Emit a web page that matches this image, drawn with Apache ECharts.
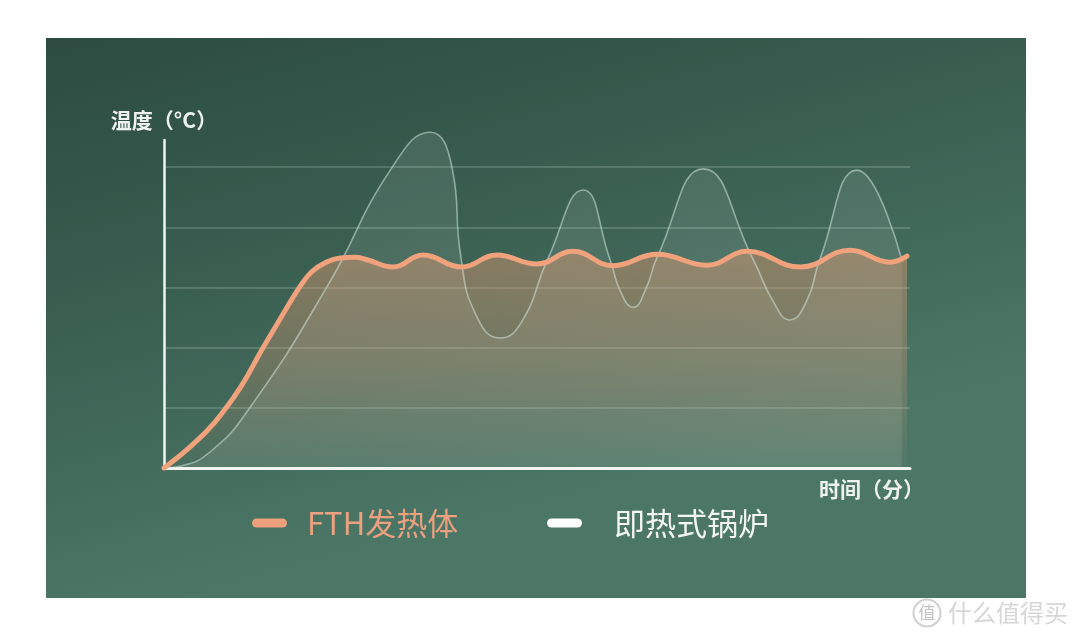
<!DOCTYPE html>
<html>
<head>
<meta charset="utf-8">
<script src="https://cdn.jsdelivr.net/npm/echarts@6/dist/echarts.min.js"></script>
<style>
html,body{margin:0;padding:0;background:#ffffff;}
#chart{width:1080px;height:636px;}
</style>
</head>
<body>
<div id="chart"></div>
<script>
// ---- data ----
const seriesNames = ['FTH发热体', '即热式锅炉'];
const axisNames = ['温度（°C）', '时间（分）'];
const fthX = [0, 3.5, 6.8, 10.2, 13.1, 16.2, 18.2, 19.8, 21.6, 23.6, 25.6, 27.2, 30.7, 34.7, 39.9, 44.6, 50.0, 54.8, 60.2, 66.1, 72.8, 78.2, 85.3, 92.0, 97.3, 99.6];
const fthY = [0, 0.35, 0.76, 1.33, 1.96, 2.61, 3.01, 3.26, 3.41, 3.49, 3.5, 3.46, 3.34, 3.54, 3.34, 3.54, 3.39, 3.60, 3.36, 3.55, 3.37, 3.60, 3.34, 3.62, 3.42, 3.52];
const boilerX = [0, 2.1, 6.2, 11.5, 21.8, 30.6, 35.7, 38.6, 39.8, 41.8, 45.0, 47.9, 51.5, 56.2, 59.8, 61.2, 62.9, 64.6, 66.1, 72.3, 79.0, 81.6, 83.9, 86.2, 87.9, 92.9, 98.9];
const boilerY = [0, 0.03, 0.27, 1.0, 3.0, 5.0, 5.58, 5.0, 3.5, 2.55, 2.16, 2.42, 3.49, 4.62, 3.46, 2.93, 2.67, 2.98, 3.50, 4.97, 3.46, 2.78, 2.46, 2.79, 3.46, 4.95, 3.46];
const watermarkText = '什么值得买';
const watermarkIcon = '值';

const fthData = fthX.map((x, i) => [x, fthY[i]]);
const boilerData = boilerX.map((x, i) => [x, boilerY[i]]);

const chart = echarts.init(document.getElementById('chart'), null, {renderer: 'canvas'});
const pill = 'path://M4.5,0 L30.5,0 A4.5,4.5 0 0 1 30.5,9 L4.5,9 A4.5,4.5 0 0 1 4.5,0 Z';

const option = {
  backgroundColor: '#ffffff',
  animation: false,
  graphic: [
    {
      type: 'rect', z: -10, silent: true,
      shape: {x: 46, y: 38, width: 980, height: 560},
      style: {
        fill: new echarts.graphic.LinearGradient(0, 0, 0.15, 1, [
          {offset: 0, color: '#2d4b41'},
          {offset: 0.5, color: '#3a6052'},
          {offset: 1, color: '#4c7767'}
        ])
      }
    },
    {
      type: 'circle', z: 10, silent: true,
      shape: {cx: 927, cy: 613, r: 13.5},
      style: {fill: '#ffffff', stroke: '#cfcfcf', lineWidth: 2}
    },
    {
      type: 'text', z: 11, silent: true,
      style: {x: 927, y: 613, text: watermarkIcon, fill: '#c4c4c4', font: '17px "Noto Sans CJK SC"', align: 'center', verticalAlign: 'middle'}
    },
    {
      type: 'text', z: 11, silent: true,
      style: {x: 948, y: 613, text: watermarkText, fill: '#d6d6d6', font: '24px "Noto Sans CJK SC"', align: 'left', verticalAlign: 'middle'}
    }
  ],
  grid: {left: 164, top: 140, width: 746, height: 328},
  legend: [
    {
      left: 247, top: 502, padding: 5,
      icon: pill, itemWidth: 35, itemHeight: 9,
      selectedMode: false,
      data: [{name: seriesNames[0], itemStyle: {color: '#eda07c'}, textStyle: {color: '#eba17f'}}],
      textStyle: {fontSize: 31, lineHeight: 32, fontFamily: '"Noto Sans CJK SC"', padding: [0, 0, 0, 15]}
    },
    {
      left: 542, top: 502, padding: 5,
      icon: pill, itemWidth: 35, itemHeight: 9,
      selectedMode: false,
      data: [{name: seriesNames[1], itemStyle: {color: '#ffffff'}, textStyle: {color: '#f4f6f5'}}],
      textStyle: {fontSize: 31, lineHeight: 32, fontFamily: '"Noto Sans CJK SC"', padding: [0, 0, 0, 27]}
    }
  ],
  xAxis: {
    type: 'value', min: 0, max: 100,
    name: axisNames[1], nameLocation: 'end', nameGap: 14,
    nameTextStyle: {color: '#eef2f0', fontSize: 21, fontWeight: 'bold', fontFamily: '"Noto Sans CJK SC"', align: 'right', verticalAlign: 'top', padding: [11, 0, 0, 0]},
    axisLine: {show: true, lineStyle: {color: '#f2f4f3', width: 3}},
    axisTick: {show: false},
    axisLabel: {show: false},
    splitLine: {show: false}
  },
  yAxis: {
    type: 'value', min: 0, max: 5.45, interval: 1,
    name: axisNames[0], nameLocation: 'end', nameGap: 9,
    nameTextStyle: {color: '#eef2f0', fontSize: 21, fontWeight: 'bold', fontFamily: '"Noto Sans CJK SC"'},
    axisLine: {show: true, lineStyle: {color: '#f2f4f3', width: 2.5}},
    axisTick: {show: false},
    axisLabel: {show: false},
    splitLine: {show: true, showMinLine: false, showMaxLine: false, lineStyle: {color: 'rgba(205,225,215,0.28)', width: 1.5}}
  },
  series: [
    {
      name: seriesNames[1], type: 'line', data: boilerData, smooth: 0.5,
      showSymbol: false, z: 2, clip: false,
      itemStyle: {color: '#ffffff'},
      lineStyle: {width: 0, opacity: 0},
      areaStyle: {color: 'rgba(255,255,255,0.13)'}
    },
    {
      name: seriesNames[0], type: 'line', data: fthData, smooth: 0.45,
      showSymbol: false, z: 3, clip: false,
      itemStyle: {color: '#eda07c'},
      lineStyle: {width: 0, opacity: 0},
      areaStyle: {
        color: new echarts.graphic.LinearGradient(0, 0, 0, 1, [
          {offset: 0, color: 'rgba(238,158,116,0.62)'},
          {offset: 0.5, color: 'rgba(238,158,116,0.38)'},
          {offset: 1, color: 'rgba(238,158,116,0.03)'}
        ])
      }
    },
    {
      name: seriesNames[1], type: 'line', data: boilerData, smooth: 0.5,
      showSymbol: false, z: 4, clip: false,
      itemStyle: {color: '#ffffff'},
      lineStyle: {width: 1.6, color: 'rgba(210,230,222,0.55)'}
    },
    {
      name: seriesNames[0], type: 'line', data: fthData, smooth: 0.45,
      showSymbol: false, z: 5, clip: false,
      itemStyle: {color: '#eda07c'},
      lineStyle: {width: 5, color: '#f0a27c', cap: 'round'}
    }
  ]
};
chart.setOption(option);
</script>
</body>
</html>
